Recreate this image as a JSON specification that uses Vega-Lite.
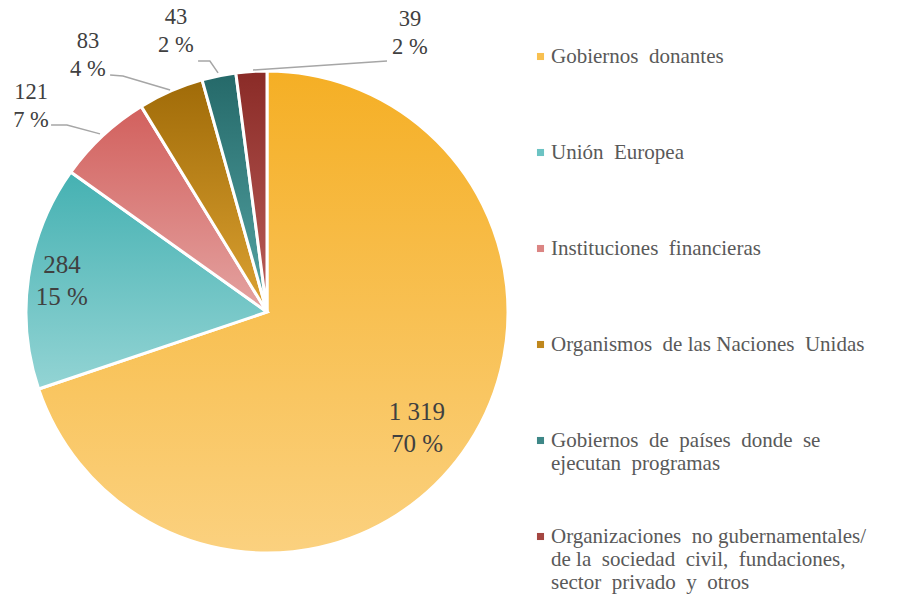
{
  "$schema": "https://vega.github.io/schema/vega-lite/v6.json",
  "width": 520,
  "height": 600,
  "padding": {"left": 7, "top": 6, "right": 0, "bottom": 0},
  "background": "white",
  "config": {"view": {"stroke": null}, "font": "Liberation Serif"},
  "datasets": {
    "slices": [
      {"order": 1, "category": "Gobiernos donantes", "value": 1319},
      {"order": 2, "category": "Unión Europea", "value": 284},
      {"order": 3, "category": "Instituciones financieras", "value": 121},
      {"order": 4, "category": "Organismos de las Naciones Unidas", "value": 83},
      {"order": 5, "category": "Gobiernos de países donde se ejecutan programas", "value": 43},
      {"order": 6, "category": "Organizaciones no gubernamentales/ de la sociedad civil, fundaciones, sector privado y otros", "value": 39}
    ],
    "labels": [
      {"category": "Gobiernos donantes", "pos": "inside", "text": "1 319\n70 %", "lx": 0.622, "ly": -0.415},
      {"category": "Unión Europea", "pos": "inside", "text": "284\n15 %", "lx": -0.851, "ly": 0.195},
      {"category": "Instituciones financieras", "pos": "outside", "text": "121\n7 %", "lx": -0.979, "ly": 0.913},
      {"category": "Organismos de las Naciones Unidas", "pos": "outside", "text": "83\n4 %", "lx": -0.743, "ly": 1.124},
      {"category": "Gobiernos de países donde se ejecutan programas", "pos": "outside", "text": "43\n2 %", "lx": -0.378, "ly": 1.224},
      {"category": "Organizaciones no gubernamentales", "pos": "outside", "text": "39\n2 %", "lx": 0.593, "ly": 1.216}
    ],
    "leaders": [
      {"g": "121", "i": 1, "px": -0.896, "py": 0.776},
      {"g": "121", "i": 2, "px": -0.830, "py": 0.776},
      {"g": "121", "i": 3, "px": -0.693, "py": 0.739},
      {"g": "83", "i": 1, "px": -0.651, "py": 0.983},
      {"g": "83", "i": 2, "px": -0.598, "py": 0.979},
      {"g": "83", "i": 3, "px": -0.402, "py": 0.921},
      {"g": "43", "i": 1, "px": -0.286, "py": 1.041},
      {"g": "43", "i": 2, "px": -0.237, "py": 1.041},
      {"g": "43", "i": 3, "px": -0.203, "py": 0.992},
      {"g": "39", "i": 1, "px": 0.498, "py": 1.041},
      {"g": "39", "i": 2, "px": -0.058, "py": 1.004}
    ]
  },
  "layer": [
    {
      "data": {"name": "slices"},
      "transform": [
        {"stack": "value", "groupby": [], "sort": [{"field": "order", "order": "ascending"}], "as": ["v0", "v1"]}
      ],
      "encoding": {
        "theta": {"field": "v0", "type": "quantitative", "scale": {"domain": [0, 1889], "zero": true, "nice": false}},
        "theta2": {"field": "v1"}
      },
      "layer": [
        {
          "mark": {"type": "arc", "outerRadius": 241, "stroke": "white", "strokeWidth": 3},
          "encoding": {
            "color": {
              "field": "category",
              "type": "nominal",
              "sort": {"field": "order"},
              "scale": {
                "domain": [
                  "Gobiernos donantes",
                  "Unión Europea",
                  "Instituciones financieras",
                  "Organismos de las Naciones Unidas",
                  "Gobiernos de países donde se ejecutan programas",
                  "Organizaciones no gubernamentales/ de la sociedad civil, fundaciones, sector privado y otros"
                ],
                "range": ["#F8C050", "#6CC3C3", "#DB8583", "#BF871C", "#3E8787", "#A44641"]
              },
              "legend": {
                "title": null,
                "orient": "none",
                "legendX": 523,
                "legendY": 34,
                "symbolType": "square",
                "symbolSize": 50,
                "symbolStrokeWidth": 0,
                "labelFont": "Liberation Serif",
                "labelFontSize": 21,
                "labelColor": "#595959",
                "labelLimit": 500,
                "labelOffset": 0,
                "rowPadding": 28,
                "gridAlign": "all",
                "labelExpr": "datum.value == 'Gobiernos de países donde se ejecutan programas' ? ['Gobiernos\u00a0 de\u00a0 países\u00a0 donde\u00a0 se', 'ejecutan\u00a0 programas'] : datum.value == 'Organizaciones no gubernamentales/ de la sociedad civil, fundaciones, sector privado y otros' ? ['Organizaciones\u00a0 no gubernamentales/', 'de la\u00a0 sociedad\u00a0 civil,\u00a0 fundaciones,', 'sector\u00a0 privado\u00a0 y\u00a0 otros'] : datum.value == 'Gobiernos donantes' ? 'Gobiernos\u00a0 donantes' : datum.value == 'Unión Europea' ? 'Unión\u00a0 Europea' : datum.value == 'Instituciones financieras' ? 'Instituciones\u00a0 financieras' : datum.value == 'Organismos de las Naciones Unidas' ? 'Organismos\u00a0 de las Naciones\u00a0 Unidas' : datum.label",
                "encode": {"labels": {"update": {"lineHeight": {"value": 26}}}}
              }
            }
          }
        },
        {
          "transform": [{"filter": "datum.order == 1"}],
          "mark": {"type": "arc", "outerRadius": 241, "stroke": "white", "strokeWidth": 3,
            "fill": {"gradient": "linear", "x1": 0, "y1": 0, "x2": 0, "y2": 1, "stops": [{"offset": 0, "color": "#F5AF25"}, {"offset": 1, "color": "#FBD17F"}]}}
        },
        {
          "transform": [{"filter": "datum.order == 2"}],
          "mark": {"type": "arc", "outerRadius": 241, "stroke": "white", "strokeWidth": 3,
            "fill": {"gradient": "linear", "x1": 0, "y1": 0, "x2": 0, "y2": 1, "stops": [{"offset": 0, "color": "#45B1B2"}, {"offset": 1, "color": "#93D4D4"}]}}
        },
        {
          "transform": [{"filter": "datum.order == 3"}],
          "mark": {"type": "arc", "outerRadius": 241, "stroke": "white", "strokeWidth": 3,
            "fill": {"gradient": "linear", "x1": 0, "y1": 0, "x2": 0, "y2": 1, "stops": [{"offset": 0, "color": "#D2605D"}, {"offset": 1, "color": "#E4A3A1"}]}}
        },
        {
          "transform": [{"filter": "datum.order == 4"}],
          "mark": {"type": "arc", "outerRadius": 241, "stroke": "white", "strokeWidth": 3,
            "fill": {"gradient": "linear", "x1": 0, "y1": 0, "x2": 0, "y2": 1, "stops": [{"offset": 0, "color": "#A06B08"}, {"offset": 1, "color": "#DCA232"}]}}
        },
        {
          "transform": [{"filter": "datum.order == 5"}],
          "mark": {"type": "arc", "outerRadius": 241, "stroke": "white", "strokeWidth": 3,
            "fill": {"gradient": "linear", "x1": 0, "y1": 0, "x2": 0, "y2": 1, "stops": [{"offset": 0, "color": "#256969"}, {"offset": 1, "color": "#55A5A5"}]}}
        },
        {
          "transform": [{"filter": "datum.order == 6"}],
          "mark": {"type": "arc", "outerRadius": 241, "stroke": "white", "strokeWidth": 3,
            "fill": {"gradient": "linear", "x1": 0, "y1": 0, "x2": 0, "y2": 1, "stops": [{"offset": 0, "color": "#8A2B27"}, {"offset": 1, "color": "#BC5F5A"}]}}
        }
      ]
    },
    {
      "data": {"name": "leaders"},
      "mark": {"type": "line", "color": "#A6A6A6", "strokeWidth": 1.5},
      "encoding": {
        "x": {"field": "px", "type": "quantitative", "scale": {"domain": [-1.0788, 1.0788], "nice": false, "zero": false}, "axis": null},
        "y": {"field": "py", "type": "quantitative", "scale": {"domain": [-1.2448, 1.2448], "nice": false, "zero": false}, "axis": null},
        "detail": {"field": "g", "type": "nominal"},
        "order": {"field": "i", "type": "quantitative"}
      }
    },
    {
      "data": {"name": "labels"},
      "transform": [{"filter": "datum.pos == 'inside'"}],
      "mark": {"type": "text", "font": "Liberation Serif", "fontSize": 25, "color": "#404040", "lineBreak": "\n", "lineHeight": 32, "align": "center", "baseline": "middle"},
      "encoding": {
        "x": {"field": "lx", "type": "quantitative"},
        "y": {"field": "ly", "type": "quantitative"},
        "text": {"field": "text", "type": "nominal"}
      }
    },
    {
      "data": {"name": "labels"},
      "transform": [{"filter": "datum.pos == 'outside'"}],
      "mark": {"type": "text", "font": "Liberation Serif", "fontSize": 22.5, "color": "#404040", "lineBreak": "\n", "lineHeight": 28, "align": "center", "baseline": "middle"},
      "encoding": {
        "x": {"field": "lx", "type": "quantitative"},
        "y": {"field": "ly", "type": "quantitative"},
        "text": {"field": "text", "type": "nominal"}
      }
    }
  ]
}
